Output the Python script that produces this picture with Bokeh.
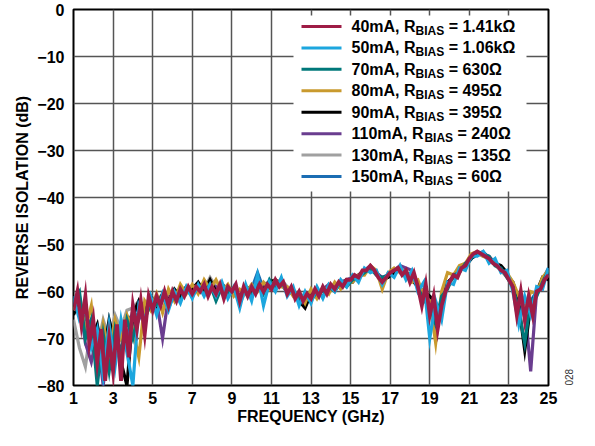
from bokeh.plotting import figure
from bokeh.models import Range1d, FixedTicker, Label, BoxAnnotation, LinearAxis
from bokeh.embed import file_html
from bokeh.resources import INLINE
import math

# ---------------- data ----------------
LEGEND_CURRENT = ["40mA", "50mA", "70mA", "80mA", "90mA", "110mA", "130mA", "150mA"]
LEGEND_RBIAS = ["1.41kΩ", "1.06kΩ", "630Ω", "495Ω", "395Ω", "240Ω", "135Ω", "60Ω"]
COLORS = ["#9e1c46", "#1ca6de", "#00787a", "#c99a2e", "#000000", "#6a3d8f", "#a0a0a0", "#1b6db3"]
FIGURE_NUMBER = "028"

FREQ_FINE = [round(1.0 + 0.2 * i, 1) for i in range(121)]      # GHz sweep of 40 mA trace
FREQ_COARSE = [round(1.0 + 0.3 * i, 1) for i in range(81)]     # GHz sweep of other traces

ISO_40MA = [
    -64, -60, -67, -61, -71, -66, -75, -68, -79, -70,
    -77, -67, -79, -66, -74, -63, -68, -62, -69, -61,
    -64, -61, -63, -60, -63, -60, -62, -59.5, -61, -59,
    -60.5, -59, -60, -58.5, -61, -59, -60.5, -58.5, -61.5, -59,
    -60, -58.5, -62, -59, -61, -59, -60.5, -58.5, -60, -58.5,
    -59.5, -57.5, -59, -58, -60.5, -59, -61.5, -60, -62, -60.5,
    -61.5, -59.5, -61, -59, -60.5, -58.5, -59.5, -58, -59, -57.5,
    -57.5, -56.5, -57, -55.5, -55.5, -54.5, -55.5, -57, -58, -57,
    -56, -55.5, -55, -56.5, -55.5, -58, -56, -59, -63, -58.5,
    -65, -61, -68, -63, -60, -58, -56.5, -57, -55, -54.5,
    -53, -52, -51.5, -52, -52.5, -53, -54, -54.5, -55.5, -56,
    -57.5, -59, -65, -60, -66, -61, -65, -60, -59.5, -57.5,
    -56.5,
]
ISO_50MA = [
    -61, -66, -64, -72, -68, -78, -67, -76, -66, -73,
    -80, -63, -66, -61, -65, -60.5, -64, -60, -62.5, -59,
    -61.5, -58.5, -61, -58.5, -61, -58, -61.5, -59, -63.5, -58.5,
    -62, -56.5, -63, -58, -60, -57, -61, -59, -63, -60,
    -62.5, -59, -61.5, -58.5, -60, -57.5, -59, -56.5, -58, -55,
    -56, -55.5, -58.5, -56, -57, -54.5, -57.5, -55.5, -60, -58,
    -70, -62, -66, -58, -58.5, -55, -55.5, -52.5, -52.5, -51.5,
    -54, -53, -56, -55.5, -60, -67, -61, -65, -59, -59.5,
    -55,
]
ISO_70MA = [
    -62, -60, -70, -66, -80, -69, -77, -68, -73, -66,
    -70, -64, -66, -62.5, -63, -61, -63.5, -60.5, -62, -59.5,
    -61, -59, -60.5, -58.5, -62, -59, -60.5, -59.5, -62, -59,
    -61, -58, -60.5, -57.5, -59.5, -58, -60, -59.5, -62, -60.5,
    -62, -60, -61, -59, -60, -58, -59, -57.5, -57, -56,
    -55, -56.5, -57, -56.5, -55.5, -55, -56.5, -56, -59, -62,
    -63, -67, -61, -59.5, -56.5, -56, -54, -53, -51.5, -52,
    -52.5, -54.5, -55, -57, -59, -64, -71, -62, -61, -58,
    -55.5,
]
ISO_80MA = [
    -64, -61, -68, -63, -75, -67, -73, -66, -70, -65,
    -68, -74, -62, -64, -60.5, -64.5, -59.5, -62, -58.5, -60.5,
    -58.5, -60.5, -57.5, -59.5, -57.5, -60, -58.5, -61, -59.5, -60.5,
    -58.5, -60, -58, -59.5, -57.5, -59, -59, -61, -60, -62.5,
    -59.5, -61.5, -59, -60.5, -58, -59.5, -57.5, -58, -56.5, -56.5,
    -54.5, -55.5, -59.5, -56, -55, -56, -55.5, -58, -57.5, -61,
    -62, -71, -60, -56, -56.5, -54.5, -54, -52, -51.5, -52.5,
    -53, -54, -55.5, -56, -58, -61, -64, -60, -60.5, -57,
    -55.5,
]
ISO_90MA = [
    -65, -62, -66, -70, -67, -74, -66, -71, -75, -80,
    -65, -62, -64.5, -61, -63, -60.5, -62, -59.5, -61, -59,
    -59.5, -58, -60, -57.5, -60, -58.5, -59.5, -60, -61.5, -59,
    -60, -58.5, -59.5, -58, -57.5, -58.5, -60, -60.5, -62, -63.5,
    -60.5, -61, -59.5, -60, -58.5, -59, -57.5, -58, -56.5, -55.5,
    -55, -56, -57.5, -57, -56, -55.5, -56.5, -57.5, -59, -60,
    -61, -62.5, -64, -58, -57, -55.5, -54.5, -53, -52, -52,
    -53, -54, -54.5, -56, -59, -63, -72.5, -63, -60, -57,
    -57.5,
]
ISO_110MA = [
    -63, -62, -71, -75, -69, -80, -70, -74, -67, -70,
    -64, -66, -63, -62.5, -62, -70, -61, -61.5, -60, -60,
    -59.5, -59, -60.5, -58.5, -59, -59, -60.5, -59.5, -61, -59.5,
    -59, -59.5, -58.5, -58, -59, -57.5, -59.5, -60, -61.5, -62.5,
    -61, -60, -59.5, -58.5, -59, -58, -57.5, -57, -56.5, -55.5,
    -54.5, -56, -57, -56.5, -55.5, -54.5, -55, -55.5, -59, -61.5,
    -63, -65, -62, -58, -57, -55.5, -54, -53, -52, -52,
    -52.5, -54, -55, -56.5, -58, -62, -63, -77, -60, -58.5,
    -56,
]
ISO_130MA = [
    -66, -72, -76, -67, -72, -66, -70, -65, -68, -64,
    -63.5, -62, -63, -61, -62, -60.5, -61.5, -60, -60.5, -59,
    -59, -58.5, -59.5, -57, -59, -58.5, -60, -59.5, -62.5, -60,
    -59.5, -58.5, -59, -58.5, -58, -57.5, -59, -60, -61, -62.5,
    -61.5, -60.5, -59.5, -59, -58.5, -58, -58.5, -57, -57, -56,
    -55.5, -56, -57.5, -57, -56, -55.5, -56, -56.5, -58.5, -61,
    -62, -64, -62.5, -58.5, -56.5, -55.5, -54.5, -53, -52, -52.5,
    -53, -54.5, -55.5, -57, -58.5, -61.5, -64, -64, -61, -58,
    -56.5,
]
ISO_150MA = [
    -62, -64, -68, -66, -73, -68, -74, -67, -70, -66,
    -65, -63, -64, -62, -62.5, -61, -62, -60, -61, -59.5,
    -59.5, -59, -59.5, -58.5, -59.5, -58.5, -60, -59.5, -61, -59,
    -59.5, -56, -59.5, -58, -58.5, -57.5, -59.5, -60, -61, -61.5,
    -60.5, -60, -60, -59, -59, -58, -58.5, -57, -57, -55.5,
    -55, -56, -57.5, -56.5, -55.5, -55.5, -56, -56.5, -58.5, -61,
    -63, -66, -62, -58, -57, -55.5, -54.5, -53, -52, -51.5,
    -53, -54, -55, -56.5, -58, -62, -65, -62, -60, -57.5,
    -55,
]

X_TICKS = [1, 3, 5, 7, 9, 11, 13, 15, 17, 19, 21, 23, 25]
Y_TICKS = [-80, -70, -60, -50, -40, -30, -20, -10, 0]

SERIES = [
    (FREQ_FINE, ISO_40MA),
    (FREQ_COARSE, ISO_50MA),
    (FREQ_COARSE, ISO_70MA),
    (FREQ_COARSE, ISO_80MA),
    (FREQ_COARSE, ISO_90MA),
    (FREQ_COARSE, ISO_110MA),
    (FREQ_COARSE, ISO_130MA),
    (FREQ_COARSE, ISO_150MA),
]
for xs, ys in SERIES:
    assert len(xs) == len(ys)

# ---------------- figure ----------------
FONT = "Liberation Sans"
FRAME_L, FRAME_R, FRAME_T, FRAME_B = 73, 548, 9, 385
W_FIG, H_FIG = 579, 430

p = figure(width=W_FIG, height=H_FIG, output_backend="svg", toolbar_location=None,
           x_range=Range1d(1, 25), y_range=Range1d(-80, 0),
           min_border_left=FRAME_L, min_border_right=W_FIG - FRAME_R,
           min_border_top=FRAME_T, min_border_bottom=H_FIG - FRAME_B)
p.background_fill_color = "white"
p.border_fill_color = "white"
p.outline_line_color = "black"
p.outline_line_width = 2

p.xaxis.ticker = FixedTicker(ticks=X_TICKS)
p.yaxis.ticker = FixedTicker(ticks=Y_TICKS)
p.yaxis.major_label_overrides = {t: ("\u2212" + str(-t) if t < 0 else str(t)) for t in Y_TICKS}
for ax in (p.xaxis[0], p.yaxis[0]):
    ax.axis_line_color = None
    ax.major_tick_line_color = None
    ax.minor_tick_line_color = None
    ax.major_tick_in = 0
    ax.major_tick_out = 0
    ax.minor_tick_in = 0
    ax.minor_tick_out = 0
    ax.major_label_text_font = FONT
    ax.major_label_text_font_style = "bold"
    ax.major_label_text_font_size = "16px"
    ax.major_label_text_color = "black"
    ax.axis_label_text_font = FONT
    ax.axis_label_text_font_style = "bold"
    ax.axis_label_text_font_size = "16px"
    ax.axis_label_text_color = "black"
p.xaxis.axis_label = "FREQUENCY (GHz)"
p.yaxis.axis_label = "REVERSE ISOLATION (dB)"
p.xaxis.major_label_standoff = 6
p.xaxis.axis_label_standoff = 1
p.yaxis.major_label_standoff = 9
p.yaxis.axis_label_standoff = 3

p.xgrid.ticker = FixedTicker(ticks=X_TICKS)
p.ygrid.ticker = FixedTicker(ticks=Y_TICKS)
for g in (p.xgrid[0], p.ygrid[0]):
    g.grid_line_color = "#555555"
    g.grid_line_width = 1.5

# figure number: a bare right-hand axis whose only label sits at the frame's lower corner
p.extra_y_ranges = {"fignum": Range1d(0, 1)}
fig_axis = LinearAxis(y_range_name="fignum", ticker=FixedTicker(ticks=[0]),
                      major_label_overrides={0: FIGURE_NUMBER},
                      major_label_orientation=math.pi / 2,
                      major_label_standoff=20,
                      major_label_text_font=FONT, major_label_text_font_size="10px",
                      major_label_text_color="#333333",
                      axis_line_color=None, major_tick_line_color=None, minor_tick_line_color=None,
                      major_tick_in=0, major_tick_out=0, minor_tick_in=0, minor_tick_out=0)
p.add_layout(fig_axis, "right")

# picture-pixel -> data helpers (layout only)
def rx(px):
    return 1 + (px - FRAME_L) * 24.0 / (FRAME_R - FRAME_L)

def ry(py):
    return -(py - FRAME_T) * 80.0 / (FRAME_B - FRAME_T)

# legend background
box = BoxAnnotation(left=rx(293), right=rx(526), top=ry(15), bottom=ry(191),
                    fill_color="white", fill_alpha=1.0, line_color=None, level="underlay")
p.add_layout(box)

# traces (40 mA drawn last, on top)
for i in reversed(range(len(SERIES))):
    xs, ys = SERIES[i]
    p.line(xs, ys, line_color=COLORS[i], line_width=3.8 if i == 0 else 3.2, line_join="miter")

# legend
W = {'0': 556, '1': 556, '2': 556, '3': 556, '4': 556, '5': 556, '6': 556, '7': 556, '8': 556, '9': 556,
     'm': 889, 'A': 722, ',': 278, ' ': 278, 'R': 722, 'B': 722, 'I': 278, 'S': 667, '=': 584,
     '.': 278, 'k': 556, 'Ω': 770}

def tw(s, size):
    return sum(W.get(c, 556) for c in s) * size / 1000.0

MAIN = 16
SUB = 12
for i in range(len(LEGEND_CURRENT)):
    yc = 26 + 21.43 * i
    p.line([rx(301), rx(341)], [ry(yc), ry(yc)], line_color=COLORS[i], line_width=3)
    t1 = LEGEND_CURRENT[i] + ", R"
    t3 = "= " + LEGEND_RBIAS[i]
    x1 = 351
    x2 = x1 + tw(t1, MAIN)
    x3 = x2 + tw("BIAS", SUB) + tw(" ", MAIN)
    for txt, xp, dy, sz in ((t1, x1, 0, MAIN), ("BIAS", x2, 4.5, SUB), (t3, x3, 0, MAIN)):
        p.add_layout(Label(x=rx(xp), y=ry(yc + dy), text=txt, text_font=FONT,
                           text_font_style="bold", text_font_size=f"{sz}px",
                           text_color="black", text_align="left", text_baseline="middle"))

open("out.html", "w").write(file_html(p, INLINE))
